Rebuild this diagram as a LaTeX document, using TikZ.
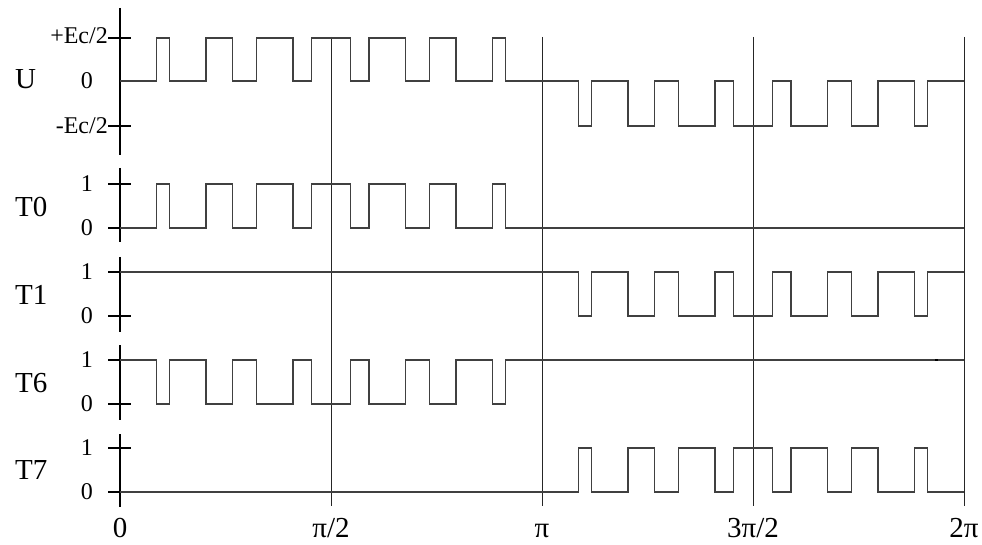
\documentclass[tikz,border=0pt]{standalone}
\usepackage{fontspec}
\setmainfont{Liberation Serif}
\begin{document}
\begin{tikzpicture}[x=1pt,y=-1pt,
  wave/.style={draw=black!75,line width=1.2pt,line join=miter},
  axisline/.style={draw=black,line width=2.2pt},
  gridline/.style={draw=black!85,line width=0.9pt},
  tickmark/.style={draw=black,line width=1.6pt},
  biglab/.style={inner sep=0pt,font=\fontsize{29}{31}\selectfont},
  smalllab/.style={inner sep=0pt,anchor=east,font=\fontsize{24}{26}\selectfont}]
\useasboundingbox (0,0) rectangle (982,545);
\def\pulses{156.5/169.8,206/232.2,256.5/293,311.5/350.5,369/405.5,429.8/456,492.2/505.5}
% grid lines
\foreach \x/\n in {331/g1,542/g2,753/g3,964/g4}{
  \coordinate (\n t) at (\x,37);
  \coordinate (\n b) at (\x,506);
  \draw[gridline] (\n t) -- (\n b);
}
% axes
\coordinate (aUt) at (120,8);   \coordinate (aUb) at (120,155);
\coordinate (a0t) at (120,168); \coordinate (a0b) at (120,242);
\coordinate (a1t) at (120,257); \coordinate (a1b) at (120,332);
\coordinate (a6t) at (120,345); \coordinate (a6b) at (120,420);
\coordinate (a7t) at (120,434); \coordinate (a7b) at (120,507);
\foreach \n in {aU,a0,a1,a6,a7}{\draw[axisline] (\n t) -- (\n b);}
% ticks
\foreach \y in {38,126,184,228,272,316,360,404,448,492}{
  \draw[tickmark] (108,\y) -- (131,\y);
}
% waveforms
\draw[wave] (120,81) foreach \a/\b in \pulses { -- (\a,81) -- (\a,38) -- (\b,38) -- (\b,81) } -- (542,81)
  foreach \a/\b in \pulses { -- ({\a+422},81) -- ({\a+422},126) -- ({\b+422},126) -- ({\b+422},81) } -- (964,81);
\draw[wave] (120,228) foreach \a/\b in \pulses { -- (\a,228) -- (\a,184) -- (\b,184) -- (\b,228) } -- (964,228);
\draw[wave] (120,272) -- (542,272)
  foreach \a/\b in \pulses { -- ({\a+422},272) -- ({\a+422},316) -- ({\b+422},316) -- ({\b+422},272) } -- (964,272);
\draw[wave] (120,360) foreach \a/\b in \pulses { -- (\a,360) -- (\a,404) -- (\b,404) -- (\b,360) } -- (964,360);
\draw[wave] (120,492) -- (542,492)
  foreach \a/\b in \pulses { -- ({\a+422},492) -- ({\a+422},448) -- ({\b+422},448) -- ({\b+422},492) } -- (964,492);
\fill[black] (935,358.8) rectangle (937.5,361.2);
% row labels
\node[biglab,anchor=west] (lU) at (15,79) {U};
\node[biglab,anchor=west] (l0) at (15,207) {T0};
\node[biglab,anchor=west] (l1) at (15,295) {T1};
\node[biglab,anchor=west] (l6) at (15,383) {T6};
\node[biglab,anchor=west] (l7) at (15,470) {T7};
% level labels
\node[smalllab] (vp) at (108,36) {+Ec/2};
\node[smalllab] (vz) at (93,81) {0};
\node[smalllab] (vm) at (108,126) {-Ec/2};
\node[smalllab] (t01) at (93,184) {1};
\node[smalllab] (t00) at (93,228) {0};
\node[smalllab] (t11) at (93,272) {1};
\node[smalllab] (t10) at (93,316) {0};
\node[smalllab] (t61) at (93,360) {1};
\node[smalllab] (t60) at (93,404) {0};
\node[smalllab] (t71) at (93,448) {1};
\node[smalllab] (t70) at (93,492) {0};
% angle labels
\node[biglab,anchor=base] (x0) at (120,537) {0};
\node[biglab,anchor=base] (x1) at (331,537) {π/2};
\node[biglab,anchor=base] (x2) at (542,537) {π};
\node[biglab,anchor=base] (x3) at (753,537) {3π/2};
\node[biglab,anchor=base] (x4) at (964,537) {2π};
\end{tikzpicture}
\end{document}
